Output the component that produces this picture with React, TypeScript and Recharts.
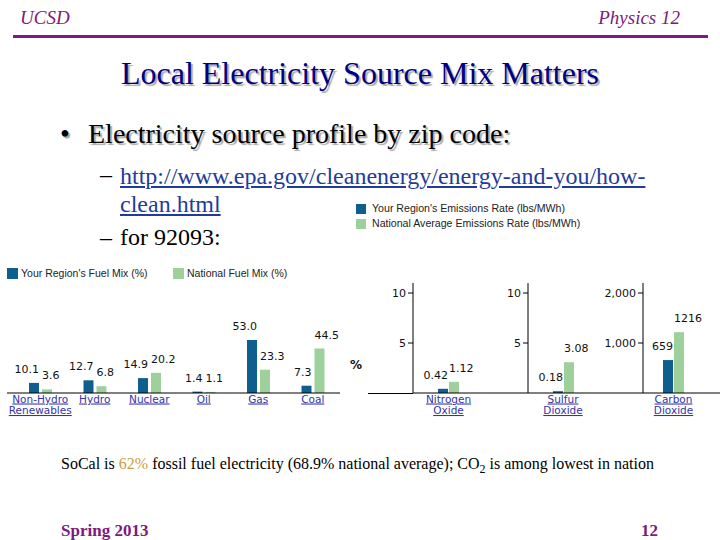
import React from 'react';
import { BarChart, Bar, XAxis, YAxis } from 'recharts';

const fuelCategories = ['Non-Hydro Renewables', 'Hydro', 'Nuclear', 'Oil', 'Gas', 'Coal'];
const regionFuel = [10.1, 12.7, 14.9, 1.4, 53.0, 7.3];
const nationalFuel = [3.6, 6.8, 20.2, 1.1, 23.3, 44.5];

const emissionCategories = ['Nitrogen Oxide', 'Sulfur Dioxide', 'Carbon Dioxide'];
const regionEmissions = [0.42, 0.18, 659];
const nationalEmissions = [1.12, 3.08, 1216];
const emissionDecimals = [2, 2, 0];
const emissionMax = [11, 11, 2200];
const emissionTicks = [[5, 10], [5, 10], [1000, 2000]];

const REGION = '#0e5f8e';
const NATIONAL = '#9ed09c';
const LINKC = '#3434a6';
const CHART_FONT = '"DejaVu Sans", Verdana, sans-serif';
const SERIF = '"Liberation Serif", "Times New Roman", serif';
const PURPLE = '#7d1a7d';

const fuelData = fuelCategories.map((name, i) => ({ name, region: regionFuel[i], national: nationalFuel[i] }));

const CatTick = (props: any) => {
  const { x, y, payload } = props;
  const words = String(payload.value).split(' ');
  return (
    <text x={x} y={y} textAnchor="middle" fill={LINKC} fontSize={10.5} fontFamily={CHART_FONT} textDecoration="underline">
      {words.map((w, i) => (
        <tspan key={i} x={x} dy={i === 0 ? 9.5 : 11.5}>{w}</tspan>
      ))}
    </text>
  );
};

const makeLabel = (side: 'region' | 'national', digits: number) => (props: any) => {
  const { x, y, width, value } = props;
  const tx = side === 'region' ? x + width : x;
  return (
    <text x={tx} y={y - 10} textAnchor={side === 'region' ? 'end' : 'start'} fill="#111" fontSize={11} fontFamily={CHART_FONT}>
      {Number(value).toFixed(digits)}
    </text>
  );
};

const axisLeft = [413, 528, 643];
const panelWidth = [115, 115, 77];
const panelPadRight = [44, 45, 16];

const EmissionPanel = ({ i }: { i: number }) => {
  const data = [{ name: emissionCategories[i], region: regionEmissions[i], national: nationalEmissions[i] }];
  const yw = 45;
  return (
    <div style={{ position: 'absolute', left: axisLeft[i] - yw, top: 273 }}>
      <BarChart width={yw + panelWidth[i]} height={150} data={data} margin={{ top: 10, right: 0, bottom: 0, left: 0 }} barGap={1}>
        <XAxis dataKey="name" height={30} tickSize={0} tickMargin={0} tickLine={false} axisLine={{ stroke: '#000' }} tick={<CatTick />} interval={0} padding={{ left: 0, right: panelPadRight[i] }} />
        <YAxis width={yw} domain={[0, emissionMax[i]]} ticks={emissionTicks[i]} tickSize={5} tickMargin={2} axisLine={{ stroke: '#000' }} tickLine={{ stroke: '#000' }} tick={{ fill: '#111', fontSize: 11, fontFamily: CHART_FONT }} tickFormatter={(v: number) => v.toLocaleString('en-US')} />
        <Bar dataKey="region" fill={REGION} barSize={10} isAnimationActive={false} label={makeLabel('region', emissionDecimals[i])} />
        <Bar dataKey="national" fill={NATIONAL} barSize={10} isAnimationActive={false} label={makeLabel('national', emissionDecimals[i])} />
      </BarChart>
    </div>
  );
};

const abs = (s: React.CSSProperties): React.CSSProperties => ({ position: 'absolute', margin: 0, whiteSpace: 'nowrap', ...s });

const legendText: React.CSSProperties = { fontFamily: '"Liberation Sans", Arial, sans-serif', color: '#222' };

export default function App() {
  return (
    <div style={{ position: 'absolute', left: 0, top: 0, width: 720, height: 540, background: '#fff', overflow: 'hidden', fontFamily: SERIF }}>
      {/* header */}
      <div style={abs({ left: 20, top: 8, fontSize: 19, lineHeight: '19px', fontStyle: 'italic', color: PURPLE })}>UCSD</div>
      <div style={abs({ right: 40, top: 8, fontSize: 19, lineHeight: '19px', fontStyle: 'italic', color: PURPLE })}>Physics 12</div>
      <div style={abs({ left: 13, top: 35, width: 695, height: 3, background: PURPLE })} />
      <div style={abs({ left: 0, width: 720, top: 57, fontSize: 32, lineHeight: '32px', textAlign: 'center', color: '#000080', textShadow: '2px 2px 1px #a8a8a8' })}>
        Local Electricity Source Mix Matters
      </div>

      {/* bullets */}
      <div style={abs({ left: 60, top: 120, fontSize: 28, lineHeight: '28px', color: '#000', textShadow: '2px 2px 1px #a8a8a8' })}>•</div>
      <div style={abs({ left: 88, top: 120, fontSize: 28, lineHeight: '28px', color: '#000', textShadow: '2px 2px 1px #a8a8a8' })}>
        Electricity source profile by zip code:
      </div>
      <div style={abs({ left: 100, top: 162, fontSize: 24, lineHeight: '24px', color: '#000' })}>–</div>
      <div style={abs({ left: 120, top: 162, fontSize: 24, lineHeight: '28px', color: '#1f3c9c', textDecoration: 'underline' })}>
        http://www.epa.gov/cleanenergy/energy-and-you/how-<br />clean.html
      </div>
      <div style={abs({ left: 100, top: 225, fontSize: 24, lineHeight: '24px', color: '#000' })}>–</div>
      <div style={abs({ left: 120, top: 225, fontSize: 24, lineHeight: '24px', color: '#000' })}>for 92093:</div>

      {/* emissions legend */}
      <div style={abs({ left: 356, top: 204, width: 10, height: 10, background: REGION })} />
      <div style={abs({ left: 372, top: 202, fontSize: 10.6, lineHeight: '13px', ...legendText })}>Your Region's Emissions Rate (lbs/MWh)</div>
      <div style={abs({ left: 356, top: 219, width: 10, height: 10, background: NATIONAL })} />
      <div style={abs({ left: 372, top: 217, fontSize: 10.6, lineHeight: '13px', ...legendText })}>National Average Emissions Rate (lbs/MWh)</div>

      {/* fuel legend */}
      <div style={abs({ left: 7, top: 268, width: 11, height: 11, background: REGION })} />
      <div style={abs({ left: 21, top: 267, fontSize: 10.5, lineHeight: '13px', ...legendText })}>Your Region's Fuel Mix (%)</div>
      <div style={abs({ left: 173, top: 268, width: 11, height: 11, background: NATIONAL })} />
      <div style={abs({ left: 187, top: 267, fontSize: 10.5, lineHeight: '13px', ...legendText })}>National Fuel Mix (%)</div>

      {/* fuel chart */}
      <div style={{ position: 'absolute', left: 0, top: 283 }}>
        <BarChart width={340} height={140} data={fuelData} margin={{ top: 10, right: 0, bottom: 0, left: 7 }} barGap={3}>
          <XAxis dataKey="name" height={30} tickSize={0} tickMargin={0} tickLine={false} axisLine={{ stroke: '#000' }} tick={<CatTick />} interval={0} padding={{ left: 6, right: 0 }} />
          <YAxis hide domain={[0, 100]} />
          <Bar dataKey="region" fill={REGION} barSize={10} isAnimationActive={false} label={makeLabel('region', 1)} />
          <Bar dataKey="national" fill={NATIONAL} barSize={10} isAnimationActive={false} label={makeLabel('national', 1)} />
        </BarChart>
      </div>

      {/* emission charts */}
      <div style={abs({ left: 368, top: 392.5, width: 45, height: 1, background: '#000' })} />
      <div style={abs({ left: 350, top: 358, fontSize: 12, lineHeight: '14px', fontWeight: 'bold', fontFamily: CHART_FONT, color: '#111' })}>%</div>
      {[0, 1, 2].map((i) => <EmissionPanel key={i} i={i} />)}

      {/* footer */}
      <div style={abs({ left: 61, top: 455.5, fontSize: 16, lineHeight: '16px', color: '#000' })}>
        SoCal is <span style={{ color: '#c99d45' }}>62%</span> fossil fuel electricity (68.9% national average); CO<sub style={{ fontSize: 12, verticalAlign: '-4px', lineHeight: 0 }}>2</sub> is among lowest in nation
      </div>
      <div style={abs({ left: 61, top: 522, fontSize: 17, lineHeight: '17px', fontWeight: 'bold', color: PURPLE })}>Spring 2013</div>
      <div style={abs({ left: 641, top: 522, fontSize: 17, lineHeight: '17px', fontWeight: 'bold', color: PURPLE })}>12</div>
    </div>
  );
}
